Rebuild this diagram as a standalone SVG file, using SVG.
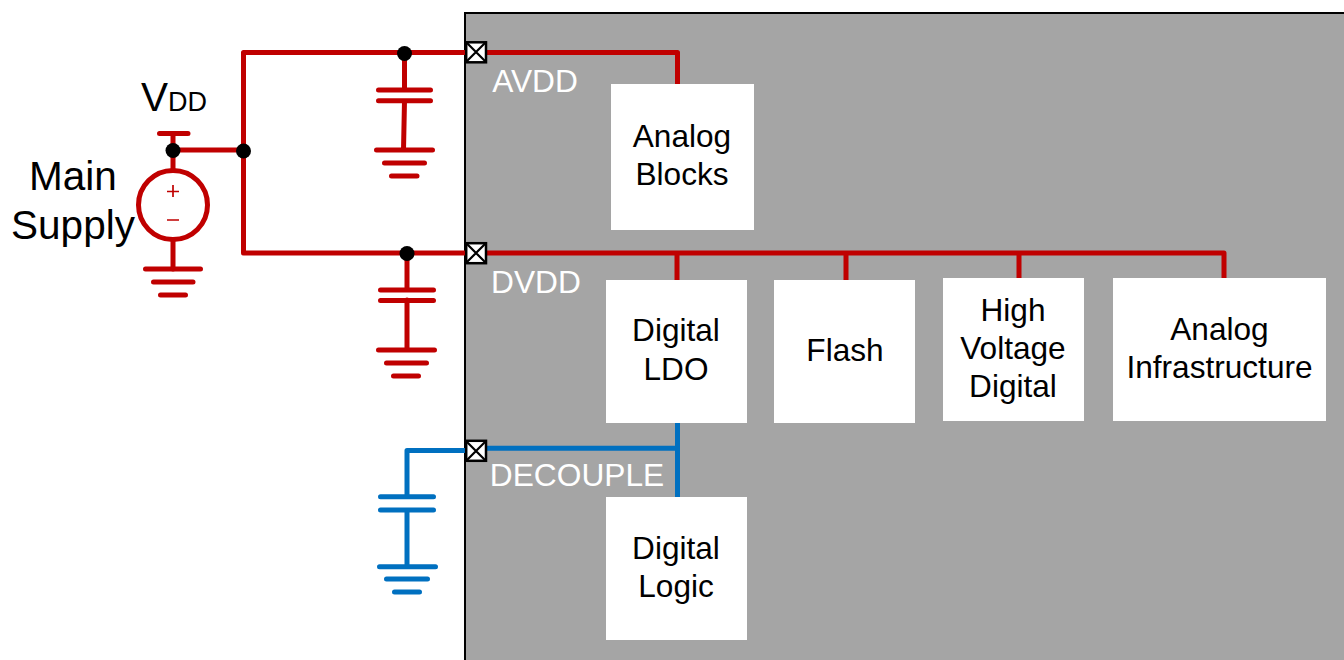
<svg xmlns="http://www.w3.org/2000/svg" width="1344" height="660" viewBox="0 0 1344 660">
<style>
text{font-family:"Liberation Sans",Arial,sans-serif;text-anchor:middle}
.b{fill:#000;font-size:31.600px}
.l{fill:#000;font-size:40.500px}
.w{fill:#fff;font-size:31.700px}
.n{fill:#fff}
.r{stroke:#c00000;stroke-width:5;fill:none;stroke-linecap:round;stroke-linejoin:round}
.u{stroke:#0070c0;stroke-width:5;fill:none;stroke-linecap:round;stroke-linejoin:round}
.p{fill:#fff;stroke:#000;stroke-width:2.500}
.x{stroke:#000;stroke-width:2.200;fill:none}
</style>
<rect id="chip" x="465" y="13" width="881" height="650" fill="#a5a5a5" stroke="#000" stroke-width="2"/>
<g id="connectors">
<path class="r" d="M173 134V150M173 150H243M173 150V170M173 240V269M243.500 151V52.500H470M243.500 151V253H470"/>
<path class="r" d="M145.500 269H200.500M153.500 282H193M160.500 295H185.500M159.500 133.500H188"/>
<path class="r" d="M404.500 53V90M378.500 90H430.500M378.500 100.700H430.500M404.500 101L403.500 150M376.500 150H432.500M384.500 163H424.500M391.500 176H417"/>
<path class="r" d="M407 253V290M380.500 290H433.500M380.500 300.500H433.500M407 300V350M378.500 350H434.500M386.500 363H426.500M393.500 376H418.500"/>
<path class="r" d="M485 52.500H677.500V84M485 253H1224V280M677 253V280M846 253V280M1019 253V280"/>
<path class="u" d="M470 450.500H407V496.700M380.500 496.700H433.500M380.500 510H433.500M407 510V566.700M379.500 566.700H435.500M386.500 579H427.500M394.500 592H419.500"/>
<path class="u" d="M485 448.300H677"/>
<path d="M677.500 423V497" stroke="#0070c0" stroke-width="5" fill="none"/>
<circle cx="173" cy="150.500" r="7.500" fill="#000"/>
<circle cx="243.500" cy="151" r="7.500" fill="#000"/>
<circle cx="404.500" cy="53.500" r="7.500" fill="#000"/>
<circle cx="407" cy="253.500" r="7.500" fill="#000"/>
</g>
<g id="pad-avdd"><rect class="p" x="466.200" y="42.300" width="19.800" height="20"/><path class="x" d="M466 42L486 62M486 42L466 62"/></g>
<g id="pad-dvdd"><rect class="p" x="466.200" y="243.200" width="19.800" height="20"/><path class="x" d="M466 243L486 263M486 243L466 263"/></g>
<g id="pad-decouple"><rect class="p" x="466.200" y="440.800" width="19.800" height="20"/><path class="x" d="M466 441L486 461M486 441L466 461"/></g>
<g id="main-supply">
<circle cx="173" cy="205" r="34.500" fill="#fff" stroke="#c00000" stroke-width="5"/>
<path d="M173 185V197M167 191.500H179M167 220H179" stroke="#c00000" stroke-width="1.700" fill="none"/>
<text class="l" x="73" y="190">Main</text>
<text class="l" x="73" y="239">Supply</text>
<text class="l" x="141" y="111" style="text-anchor:start">V<tspan style="font-size:27px">DD</tspan></text>
</g>
<g id="label-avdd"><text class="w" x="535" y="92">AVDD</text></g>
<g id="label-dvdd"><text class="w" x="536" y="293">DVDD</text></g>
<g id="label-decouple"><text class="w" x="577" y="486">DECOUPLE</text></g>
<g id="analog-blocks"><rect class="n" x="611" y="84" width="143" height="146"/><text class="b" x="682" y="147">Analog</text><text class="b" x="682" y="185">Blocks</text></g>
<g id="digital-ldo"><rect class="n" x="606" y="280" width="141" height="143"/><text class="b" x="676" y="341">Digital</text><text class="b" x="676" y="380">LDO</text></g>
<g id="flash"><rect class="n" x="774" y="280" width="141" height="143"/><text class="b" x="845" y="361">Flash</text></g>
<g id="high-voltage-digital"><rect class="n" x="943" y="278" width="141" height="143"/><text class="b" x="1013" y="321">High</text><text class="b" x="1013" y="359">Voltage</text><text class="b" x="1013" y="397">Digital</text></g>
<g id="analog-infrastructure"><rect class="n" x="1113" y="278" width="213" height="143"/><text class="b" x="1219.500" y="340">Analog</text><text class="b" x="1219.500" y="378">Infrastructure</text></g>
<g id="digital-logic"><rect class="n" x="606" y="497" width="141" height="143"/><text class="b" x="676" y="559">Digital</text><text class="b" x="676" y="597">Logic</text></g>
</svg>
